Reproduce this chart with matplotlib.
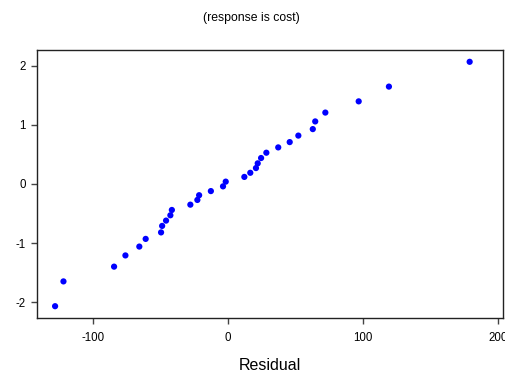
import matplotlib
matplotlib.use("Agg")
import matplotlib.pyplot as plt

# residuals (x) and normal scores (y)
residual = [-127.9, -121.7, -84.2, -75.8, -65.5, -60.8, -49.4, -48.6, -45.7, -42.5,
            -41.4, -27.7, -22.5, -21.2, -12.5, -3.5, -1.5, 12.3, 16.7, 20.9,
            22.2, 24.7, 28.6, 37.4, 45.9, 52.3, 63.0, 64.8, 72.3, 97.0, 119.4, 179.2]
score = [-2.07, -1.65, -1.40, -1.21, -1.06, -0.93, -0.82, -0.71, -0.62, -0.53,
         -0.44, -0.35, -0.27, -0.19, -0.12, -0.04, 0.04, 0.12, 0.19, 0.27,
         0.35, 0.44, 0.53, 0.62, 0.71, 0.82, 0.93, 1.06, 1.21, 1.40, 1.65, 2.07]

xticks = [-100, 0, 100, 200]
yticks = [-2, -1, 0, 1, 2]

plt.rcParams['font.family'] = ['Liberation Sans', 'DejaVu Sans']
plt.rcParams['axes.unicode_minus'] = False

fig = plt.figure(figsize=(5.06, 3.74), dpi=100)
ax = fig.add_axes([37/506, 1 - 318/374, (503-37)/506, (318-50)/374])

ax.scatter(residual, score, s=20, c="#0000ff", edgecolors="none", zorder=3)

ax.set_xlim(-141.3, 203.9)
ax.set_ylim(-2.27, 2.27)
ax.set_xticks(xticks)
ax.set_yticks(yticks)
ax.tick_params(direction="out", length=4, width=1, color="#444444", labelsize=8.3)
ax.tick_params(axis="x", pad=6)
ax.tick_params(axis="y", pad=4)

for s in ax.spines.values():
    s.set_linewidth(1)
    s.set_color("#222222")

fig.text(251/506, 1 - 18/374, "(response is cost)", ha="center", va="center", fontsize=8.8)
ax.set_xlabel("Residual", fontsize=11.5, labelpad=10)

fig.savefig("out.png", dpi=100)
